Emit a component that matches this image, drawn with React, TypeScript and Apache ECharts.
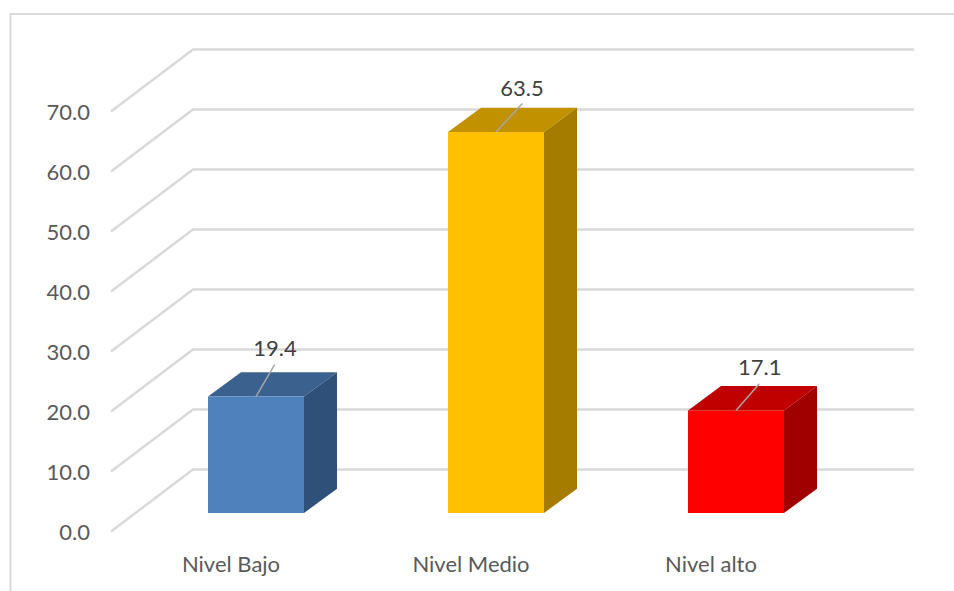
import React, { useEffect, useRef } from "react";
import * as echarts from "echarts";

const categories = ["Nivel Bajo", "Nivel Medio", "Nivel alto"];
const values = [19.4, 63.5, 17.1];
const gridTicks = [0, 10, 20, 30, 40, 50, 60, 70];

const faceColors = ["#4F81BD", "#FFC000", "#FF0000"];
const topColors = ["#3B618F", "#C29100", "#C00000"];
const sideColors = ["#2F5179", "#A67C00", "#A00000"];
const labelOffsets = [
  { line: [18.6, -32], text: [19, -49.5] },
  { line: [26.3, -28.6], text: [26, -45] },
  { line: [23.3, -26.6], text: [23.7, -44] },
];

const FONT = "Lato, Carlito, sans-serif";
const WALL_DX = 82;
const WALL_DY = -62;
const BAR_INSET_X = 25;
const BAR_INSET_Y = -18;
const BAR_W = 96;
const BAR_DX = 33;
const BAR_DY = -24.3;

export default function App() {
  const ref = useRef<HTMLDivElement>(null);

  useEffect(() => {
    document.body.style.margin = "0";
    const chart = echarts.init(ref.current!, undefined, { renderer: "svg" });
    chart.setOption({
      animation: false,
      backgroundColor: "#FFFFFF",
      grid: { left: 111, top: 111, width: 720, height: 420 },
      xAxis: {
        type: "category",
        data: categories,
        axisLine: { show: false },
        axisTick: { show: false },
        axisLabel: { color: "#595959", fontFamily: FONT, fontSize: 22, margin: 21 },
      },
      yAxis: {
        type: "value",
        min: 0,
        max: 70,
        interval: 10,
        axisLine: { show: false },
        axisTick: { show: false },
        splitLine: { show: false },
        axisLabel: {
          color: "#595959",
          fontFamily: FONT,
          fontSize: 22,
          margin: 21,
          formatter: (v: number) => v.toFixed(1),
        },
      },
      graphic: [
        {
          type: "polyline",
          silent: true,
          shape: { points: [[10.5, 591], [10.5, 14], [954, 14]] },
          style: { stroke: "#D9D9D9", lineWidth: 2, fill: "none" },
        },
      ],
      series: [
        {
          type: "custom",
          z: 1,
          silent: true,
          data: gridTicks.map((t) => [0, t]),
          renderItem: (params: any, api: any) => {
            const y = api.coord([0, api.value(1)])[1];
            const cs = params.coordSys;
            return {
              type: "polyline",
              shape: {
                points: [
                  [cs.x, y + 0.5],
                  [cs.x + WALL_DX, y + WALL_DY + 0.5],
                  [cs.x + cs.width + WALL_DX + 1, y + WALL_DY + 0.5],
                ],
              },
              style: { stroke: "#D9D9D9", lineWidth: 2.4, fill: "none" },
            };
          },
        },
        {
          type: "custom",
          z: 2,
          silent: true,
          data: values.map((v, i) => [i, v]),
          renderItem: (params: any, api: any) => {
            const i = params.dataIndex;
            const topPt = api.coord([i, api.value(1)]);
            const basePt = api.coord([i, 0]);
            const cx = topPt[0] + BAR_INSET_X;
            const l = cx - BAR_W / 2;
            const r = cx + BAR_W / 2;
            const t = topPt[1] + BAR_INSET_Y;
            const b = basePt[1] + BAR_INSET_Y;
            const off = labelOffsets[i];
            return {
              type: "group",
              children: [
                {
                  type: "polygon",
                  shape: { points: [[l, t], [r, t], [r + BAR_DX, t + BAR_DY], [l + BAR_DX, t + BAR_DY]] },
                  style: { fill: topColors[i] },
                },
                {
                  type: "polygon",
                  shape: { points: [[r, t], [r + BAR_DX, t + BAR_DY], [r + BAR_DX, b + BAR_DY], [r, b]] },
                  style: { fill: sideColors[i] },
                },
                {
                  type: "rect",
                  shape: { x: l, y: t, width: BAR_W, height: b - t },
                  style: { fill: faceColors[i] },
                },
                {
                  type: "line",
                  shape: { x1: cx, y1: t, x2: cx + off.line[0], y2: t + off.line[1] },
                  style: { stroke: "#A6A6A6", lineWidth: 1.5 },
                },
                {
                  type: "text",
                  style: {
                    text: api.value(1).toFixed(1),
                    x: cx + off.text[0],
                    y: t + off.text[1],
                    align: "center",
                    verticalAlign: "middle",
                    fill: "#404040",
                    fontFamily: FONT,
                    fontSize: 22,
                  },
                },
              ],
            };
          },
        },
      ],
    });
    return () => chart.dispose();
  }, []);

  return <div ref={ref} style={{ width: 954, height: 591 }} />;
}
